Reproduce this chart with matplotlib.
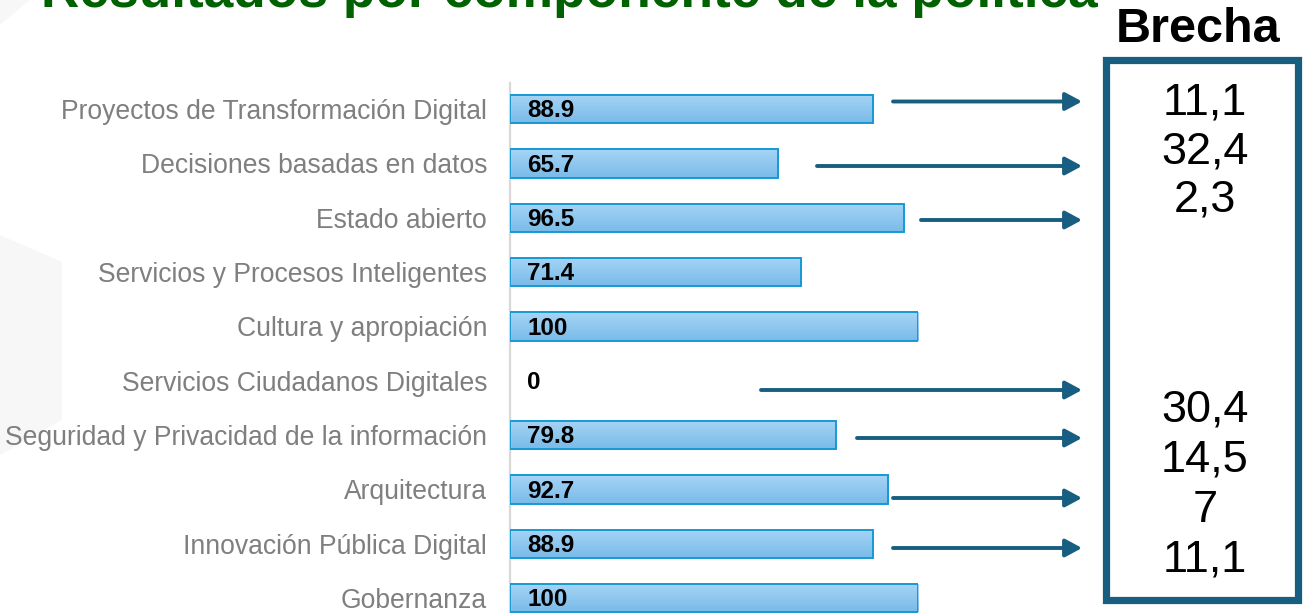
import matplotlib
matplotlib.use("Agg")
import matplotlib.pyplot as plt
import numpy as np
from matplotlib.patches import Rectangle, FancyArrowPatch, Polygon
from matplotlib.colors import LinearSegmentedColormap

plt.rcParams['font.family'] = ['Liberation Sans', 'DejaVu Sans']

# ---------------- data ----------------
categories = [
    "Proyectos de Transformación Digital",
    "Decisiones basadas en datos",
    "Estado abierto",
    "Servicios y Procesos Inteligentes",
    "Cultura y apropiación",
    "Servicios Ciudadanos Digitales",
    "Seguridad y Privacidad de la información",
    "Arquitectura",
    "Innovación Pública Digital",
    "Gobernanza",
]
values = [88.9, 65.7, 96.5, 71.4, 100, 0, 79.8, 92.7, 88.9, 100]
value_labels = ["88.9", "65.7", "96.5", "71.4", "100", "0", "79.8", "92.7", "88.9", "100"]
brecha_values = ["11,1", "32,4", "2,3", "30,4", "14,5", "7", "11,1"]
title = "Resultados por componente de la política"
brecha_title = "Brecha"

# ---------------- layout (pixels, top-left origin) ----------------
W, H = 1307, 613
fig = plt.figure(figsize=(W / 100, H / 100), dpi=100)
fig.patch.set_facecolor("white")

def fx(x):
    return x / W

def fy(y):
    return 1 - y / H

# faint background watermark shapes
bg = Polygon([[fx(0), fy(235)], [fx(62), fy(262)], [fx(62), fy(420)], [fx(0), fy(455)]],
             closed=True, transform=fig.transFigure, facecolor="#f7f7f7", edgecolor="none", zorder=0)
fig.add_artist(bg)
bg2 = Polygon([[fx(0), fy(0)], [fx(30), fy(0)], [fx(0), fy(25)]],
              closed=True, transform=fig.transFigure, facecolor="#f7f7f7", edgecolor="none", zorder=0)
fig.add_artist(bg2)

row_px = 54.33
top_px = 83
ylim_top, ylim_bot = -0.48, 9.5
ax_h_px = (ylim_bot - ylim_top) * row_px
ax_left, ax_right = 510, 918
ax = fig.add_axes([fx(ax_left), fy(top_px + ax_h_px), (ax_right - ax_left) / W, ax_h_px / H])
ax.set_facecolor("none")
ax.set_xlim(0, 100)
ax.set_ylim(ylim_bot, ylim_top)

ypos = np.arange(len(categories))
bar_h = 0.52
cmap = LinearSegmentedColormap.from_list("g", ["#a6d4f6", "#79bbe8"])
grad = np.linspace(0, 1, 64).reshape(-1, 1)
bars = ax.barh(ypos, values, height=bar_h, color="none", edgecolor="#1799d3", linewidth=1.4, zorder=3)
for b, v in zip(bars, values):
    if v <= 0:
        b.set_linewidth(0)
        continue
    x0, y0 = b.get_x(), b.get_y()
    w, h = b.get_width(), b.get_height()
    im = ax.imshow(grad, cmap=cmap, aspect="auto", extent=[x0, x0 + w, y0 + h, y0],
                   zorder=2, interpolation="bicubic")
    im.set_clip_path(b)
ax.set_xlim(0, 100)
ax.set_ylim(ylim_bot, ylim_top)

for yi, lab in zip(ypos, value_labels):
    ax.annotate(lab, xy=(0, yi), xytext=(12.3, -1.3), textcoords="offset points",
                ha="left", va="center", fontsize=17.5, fontweight="bold", color="black", zorder=4)

ax.set_yticks(ypos)
ax.set_yticklabels(categories, fontsize=19.1, color="#7f7f7f")
ax.tick_params(axis="y", length=0, pad=16.5)
ax.set_xticks([])
for s in ["top", "right", "bottom"]:
    ax.spines[s].set_visible(False)
ax.spines["left"].set_color("#d9d9d9")
ax.spines["left"].set_linewidth(1.6)

# ---------------- arrows ----------------
arrow_y = [101.5, 166, 220, 390, 438, 498, 548]
arrow_x0 = [893, 817, 921, 761, 857, 893, 893]
arrow_tip = 1082
teal = "#175e80"
for y, x0 in zip(arrow_y, arrow_x0):
    a = FancyArrowPatch((fx(x0), fy(y)), (fx(arrow_tip), fy(y)), transform=fig.transFigure,
                        arrowstyle="-|>,head_length=10,head_width=5.4", mutation_scale=1,
                        color=teal, linewidth=2.8, shrinkA=0, shrinkB=0)
    fig.add_artist(a)

# ---------------- Brecha box ----------------
box = Rectangle((fx(1105.5), fy(599.5)), (1297.5 - 1105.5) / W, (599.5 - 59.5) / H,
                transform=fig.transFigure, facecolor="white", edgecolor=teal, linewidth=5.2, zorder=1)
fig.add_artist(box)
fig.text(fx(1198), fy(42), brecha_title, ha="center", va="baseline", fontsize=35,
         fontweight="bold", color="black")
brecha_y = [103, 152, 200, 410, 460, 510, 560]
for y, t in zip(brecha_y, brecha_values):
    fig.text(fx(1205), fy(y), t, ha="center", va="center", fontsize=32.5, color="black", zorder=3)

# ---------------- title ----------------
fig.text(fx(569), fy(7), title, ha="center", va="baseline", fontsize=38.3,
         fontweight="bold", color="#006100")

fig.savefig("out.png", dpi=100, facecolor="white")
